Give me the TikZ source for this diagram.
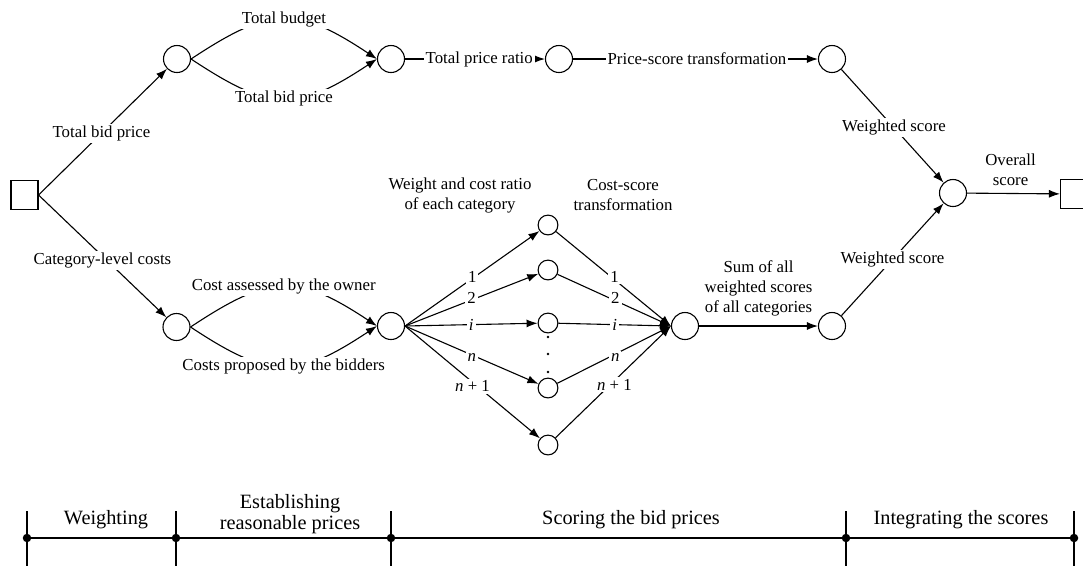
\documentclass[tikz,border=0pt]{standalone}
\usepackage{fontspec}
\setmainfont{Liberation Serif}
\usetikzlibrary{arrows.meta}
\begin{document}
\begin{tikzpicture}[x=1pt,y=-1pt,
  ln/.style={line width=1.1pt},
  arr/.style={ln,-{Latex[length=11pt,width=8pt]}},
  cir/.style={circle,draw,line width=1.1pt,minimum size=27pt,inner sep=0pt},
  fcir/.style={circle,draw,line width=1.1pt,minimum size=19.8pt,inner sep=0pt},
  sqr/.style={rectangle,draw,line width=1.1pt,minimum width=27pt,minimum height=28.5pt,inner sep=0pt},
  lab/.style={fill=white,inner sep=2pt,font=\fontsize{16.8}{19.5}\selectfont},
  txt/.style={inner sep=0pt,align=center,font=\fontsize{16.8}{20}\selectfont},
  big/.style={inner sep=0pt,align=center,font=\fontsize{20.3}{21}\selectfont},
  tickln/.style={line width=1.4pt},
  axisln/.style={line width=2.6pt},
  fdot/.style={circle,fill,inner sep=0pt,minimum size=2.8pt},
  jdot/.style={circle,fill,inner sep=0pt,minimum size=8.5pt}]
\useasboundingbox (0,0) rectangle (1083,566);

% nodes
\node[sqr] (L) at (24.5,195) {};
\node[cir] (T1) at (177,59) {};
\node[cir] (T2) at (391,59) {};
\node[cir] (T3) at (559,59) {};
\node[cir] (T4) at (832,59) {};
\node[cir] (M) at (953,193) {};
\node[sqr] (R) at (1074,194) {};
\node[cir] (B1) at (176.5,327) {};
\node[cir] (B2) at (391,326) {};
\node[fcir] (F1) at (548,225) {};
\node[fcir] (F2) at (548,270) {};
\node[fcir] (Fi) at (548,323) {};
\node[fcir] (Fn) at (548,388) {};
\node[fcir] (Fm) at (548,445) {};
\node[fdot] (D1) at (548,337) {};
\node[fdot] (D2) at (548,354) {};
\node[fdot] (D3) at (548,372) {};
\node[cir] (S) at (685,326) {};
\node[cir] (B4) at (832,326) {};

% headings
\node[txt] (H1) at (460,195) {Weight and cost ratio\\of each category};
\node[txt] (H2) at (623,195) {Cost-score\\transformation};

% upper branch
\draw[arr] (L.east) -- node[lab,pos=0.49]{Total bid price} (T1);
\draw[arr] (T1.east) .. controls +(80,-53) and +(-80,-53) .. node[lab]{Total budget} (T2.west);
\draw[arr] (T1.east) .. controls +(80,53) and +(-80,53) .. node[lab]{Total bid price} (T2.west);
\draw[arr] (T2) -- node[lab,pos=0.53]{Total price ratio} (T3);
\draw[arr] (T3) -- node[lab,pos=0.506]{Price-score transformation} (T4);
\draw[arr] (T4) -- node[lab,pos=0.515]{Weighted score} (M);

% lower branch
\draw[arr] (L.east) -- node[lab,pos=0.5,yshift=-4pt]{Category-level costs} (B1);
\draw[arr] (B1.east) .. controls +(80,-53) and +(-80,-53) .. node[lab]{Cost assessed by the owner} (B2.west);
\draw[arr] (B1.east) .. controls +(80,53) and +(-80,53) .. node[lab]{Costs proposed by the bidders} (B2.west);

\draw[arr] (B2.east) -- node[lab,pos=0.5,yshift=2pt]{1} (F1);
\draw[arr] (B2.east) -- node[lab,pos=0.5,yshift=2pt]{2} (F2);
\draw[arr] (B2.east) -- node[lab,pos=0.5]{\textit{i}} (Fi);
\draw[arr] (B2.east) -- node[lab,pos=0.5,yshift=-3pt]{\textit{n}} (Fn);
\draw[arr] (B2.east) -- node[lab,pos=0.5,yshift=-4pt]{\textit{n} + 1} (Fm);

\draw[arr] (F1) -- node[lab,pos=0.51,yshift=3pt]{1} (S.west);
\draw[arr] (F2) -- node[lab,pos=0.51,yshift=3pt]{2} (S.west);
\draw[arr] (Fi) -- node[lab,pos=0.5]{\textit{i}} (S.west);
\draw[arr] (Fn) -- node[lab,pos=0.51,yshift=-3pt]{\textit{n}} (S.west);
\draw[arr] (Fm) -- node[lab,pos=0.51,yshift=-4pt]{\textit{n} + 1} (S.west);

\draw[arr] (S) -- node[txt,midway,above=9pt]{Sum of all\\weighted scores\\of all categories} (B4);
\draw[arr] (B4) -- node[lab,pos=0.5]{Weighted score} (M);
\draw[arr] (M) -- node[txt,midway,above=7pt,xshift=-3pt]{Overall\\score} (R);

% timeline
\coordinate (P0) at (27,538);
\coordinate (P1) at (176,538);
\coordinate (P2) at (391,538);
\coordinate (P3) at (846,538);
\coordinate (P4) at (1074,538);
\draw[axisln] (P0) -- (P4);
\foreach \p in {P0,P1,P2,P3,P4}{
  \draw[tickln] ([yshift=27pt]\p) -- ([yshift=-28pt]\p);
  \node[jdot] at (\p) {};
}
\node[big,anchor=base] (W1) at (106,524) {Weighting};
\node[big] (W2) at (290,514) {Establishing\\reasonable prices};
\node[big,anchor=base] (W3) at (631,524) {Scoring the bid prices};
\node[big,anchor=base] (W4) at (961,524) {Integrating the scores};
\end{tikzpicture}
\end{document}
